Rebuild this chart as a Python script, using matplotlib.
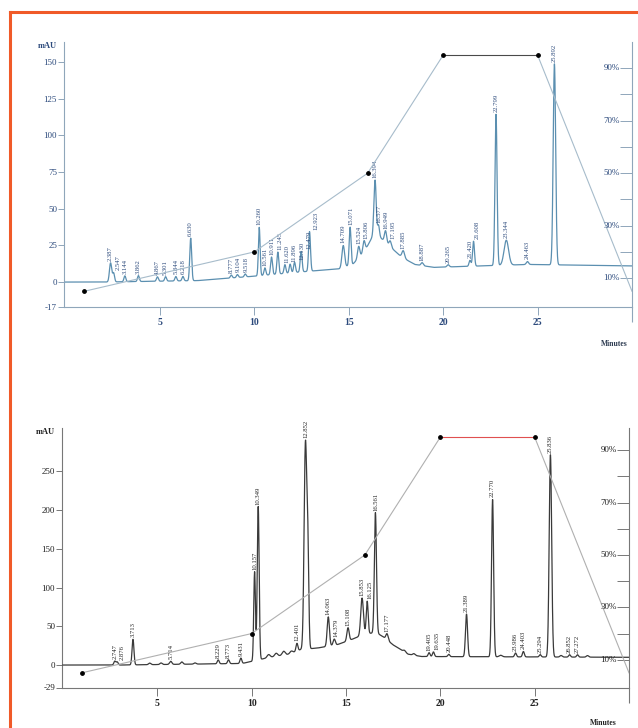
import numpy as np
import matplotlib.pyplot as plt
from matplotlib.lines import Line2D

# gradient programme (% solvent B) - same for both runs
grad_t = [1, 10, 16, 20, 25, 30]
grad_pct = [5, 20, 50, 95, 95, 5]

# top run: baseline drift knots (min, mAU)
top_base_t = [0, 2, 7, 9, 10, 13, 14.5, 15.2, 15.8, 16.3, 16.7, 17.2, 17.8, 18.5, 19.5, 24.5, 30]
top_base_y = [0, 0, 1, 3, 4, 7.5, 9, 12, 20, 32, 30, 24, 17, 12, 10, 12, 11]

# top run: labelled peaks (retention time, height above baseline, sigma)
top_rt = [2.387, 2.547, 3.144, 3.862, 4.867, 5.301, 5.844, 6.218, 6.630, 8.777, 9.104, 9.518,
          10.260, 10.561, 10.911, 11.245, 11.620, 11.896, 12.130, 12.479, 12.923,
          14.709, 15.071, 15.524, 15.806, 16.394, 16.577, 16.949, 17.195, 17.885, 18.887,
          20.265, 21.420, 21.608, 22.799, 23.344, 24.463, 25.892]
top_amp = [13, 6, 4, 4, 3, 3, 3, 3, 29, 2, 2, 2,
           33, 5, 12, 15, 6, 6, 7, 14, 27,
           15, 26, 8, 8, 38, 8, 8, 4, 5, 2,
           1.5, 4, 17, 103, 17, 2, 137]
top_sig = [0.06, 0.05, 0.05, 0.05, 0.05, 0.05, 0.05, 0.05, 0.05, 0.05, 0.05, 0.05,
           0.045, 0.05, 0.05, 0.05, 0.05, 0.05, 0.05, 0.05, 0.05,
           0.07, 0.05, 0.06, 0.06, 0.06, 0.05, 0.06, 0.06, 0.07, 0.06,
           0.06, 0.05, 0.05, 0.055, 0.12, 0.06, 0.065]

# bottom run: baseline drift knots
bot_base_t = [0, 3, 9.5, 10.6, 11, 12, 12.6, 13.5, 14.5, 15.2, 16.0, 16.6, 17.0, 17.5, 18.3, 19, 30]
bot_base_y = [0, 0, 2, 8, 10, 14, 20, 22, 26, 32, 40, 42, 36, 26, 14, 11, 10]

# bottom run: labelled peaks
bot_rt = [2.747, 2.876, 3.713, 5.714, 8.229, 8.773, 9.431, 10.157, 10.349, 12.401, 12.852,
          14.063, 14.379, 15.108, 15.853, 16.125, 16.561, 17.177, 19.405, 19.635, 20.448,
          21.389, 22.770, 23.986, 24.403, 25.294, 25.836, 26.852, 27.272]
bot_amp = [5, 4, 33, 4, 5, 5, 7, 115, 198, 10, 265,
           38, 8, 17, 48, 42, 155, 8, 5, 6, 3,
           55, 203, 5, 7, 3, 261, 3, 3]
bot_sig = [0.05, 0.05, 0.05, 0.06, 0.05, 0.05, 0.05, 0.045, 0.05, 0.05, 0.07,
           0.06, 0.06, 0.06, 0.07, 0.05, 0.055, 0.06, 0.05, 0.05, 0.05,
           0.055, 0.055, 0.05, 0.05, 0.05, 0.065, 0.05, 0.05]

# bottom run: unlabelled small bumps / shoulder
bot_minor_rt = [4.6, 5.2, 6.3, 7.0, 10.9, 11.3, 11.7, 12.1, 12.98, 18.1, 18.6, 23.2, 26.4, 27.8]
bot_minor_amp = [2, 2, 3, 1.5, 4, 4, 5, 3, 115, 2, 2, 2, 2, 2]
bot_minor_sig = [0.06, 0.06, 0.06, 0.06, 0.08, 0.08, 0.08, 0.08, 0.05, 0.06, 0.06, 0.08, 0.06, 0.06]

t = np.linspace(0, 30, 6001)


def trace(base_t, base_y, rts, amps, sigs):
    y = np.interp(t, base_t, base_y)
    for r, a, s in zip(rts, amps, sigs):
        y = y + a * np.exp(-0.5 * ((t - r) / s) ** 2)
    return y


top_y = trace(top_base_t, top_base_y, top_rt, top_amp, top_sig)
bot_y = trace(bot_base_t, bot_base_y, bot_rt + bot_minor_rt,
              bot_amp + bot_minor_amp, bot_sig + bot_minor_sig)

plt.rcParams['font.family'] = ['Liberation Serif', 'DejaVu Serif']
fig = plt.figure(figsize=(6.38, 7.28), dpi=100)

# orange frame (top + left edge)
orange = '#f05a28'
fig.add_artist(Line2D([10 / 638, 10 / 638], [0, 1 - 12 / 728], color=orange, lw=2.2,
                      transform=fig.transFigure))
fig.add_artist(Line2D([10 / 638, 1], [1 - 12 / 728, 1 - 12 / 728], color=orange, lw=2.2,
                      transform=fig.transFigure))

LAB_FS = 4.8


def peak_labels(ax, y, rts, color):
    # place retention-time labels above apex, nudging sideways where they would collide
    pts_per_px = 72 / fig.dpi
    placed = []  # (x_px, y0_px, y1_px)
    lab_len = LAB_FS * 0.5 * 6 / pts_per_px + 3
    min_gap = LAB_FS * 1.1 / pts_per_px
    for r in rts:
        ya = np.interp(r, t, y)
        xp, yp = ax.transData.transform((r, ya))
        y0, y1 = yp + 1.5, yp + 1.5 + lab_len
        xl = xp
        for _ in range(50):
            hit = [px for (px, p0, p1) in placed
                   if p0 < y1 and y0 < p1 and abs(xl - px) < min_gap - 0.01]
            if not hit:
                break
            xl = max(hit) + min_gap
        placed.append((xl, y0, y1))
        dx = (xl - xp) * pts_per_px
        ax.annotate(f'{r:.3f}', (r, ya), xytext=(dx, 1.5), textcoords='offset points',
                    rotation=90, ha='center', va='bottom', fontsize=LAB_FS, color=color,
                    zorder=4)


def panel(rect, y, rts, ylim, yticks, pct_lim, xlim, line_c, lab_c, axis_c, grad_c, flat_c):
    ax = fig.add_axes(rect)
    ax.plot(t, y, color=line_c, lw=0.9, zorder=3)
    ax.set_xlim(*xlim)
    ax.set_ylim(*ylim)
    ax.set_yticks(yticks)
    ax.set_yticklabels([str(v) for v in yticks])
    ax.set_xticks([5, 10, 15, 20, 25])
    ax.set_xticks([30], minor=True)
    for s in ['top', 'right']:
        ax.spines[s].set_visible(False)
    for s in ['left', 'bottom']:
        ax.spines[s].set_color(axis_c)
        ax.spines[s].set_linewidth(0.8)
    ax.tick_params(axis='y', direction='out', length=4, width=0.7, pad=1,
                   labelsize=6.5, colors=axis_c, labelcolor=lab_c)
    ax.tick_params(axis='x', which='major', direction='out', length=6, width=0.7, pad=2,
                   labelsize=7, colors=axis_c, labelcolor=lab_c)
    ax.tick_params(axis='x', which='minor', direction='out', length=11, width=0.8, colors=axis_c)
    for lbl in ax.get_xticklabels():
        lbl.set_fontweight('bold')
    ax.text(-0.012, 0.985, 'mAU', transform=ax.transAxes, ha='right', va='center',
            fontsize=6, fontweight='bold', color=lab_c)

    peak_labels(ax, y, rts, lab_c)

    # gradient axis
    ax2 = ax.twinx()
    ax2.set_ylim(*pct_lim)
    ax2.plot(grad_t[:4], grad_pct[:4], color=grad_c, lw=0.8)
    ax2.plot(grad_t[3:5], grad_pct[3:5], color=flat_c, lw=0.8)
    ax2.plot(grad_t[4:], grad_pct[4:], color=grad_c, lw=0.8)
    ax2.scatter(grad_t[:5], grad_pct[:5], s=6, color='black', zorder=5)
    for s in ['top', 'left', 'bottom']:
        ax2.spines[s].set_visible(False)
    ax2.spines['right'].set_color(axis_c)
    ax2.spines['right'].set_linewidth(0.8)
    ax2.set_yticks(range(10, 100, 10))
    ax2.set_yticklabels([])
    ax2.tick_params(axis='y', direction='in', length=9, width=0.7, colors=axis_c)
    for p in [10, 30, 50, 70, 90]:
        ax2.text(0.978, p, f'{p}%', transform=ax2.get_yaxis_transform(), ha='right',
                 va='center', fontsize=6.5, color=lab_c)
    return ax


# top panel
panel([64 / 638, 1 - 307 / 728, 568 / 638, 265 / 728], top_y, top_rt,
      (-17, 163.6), [-17, 0, 25, 50, 75, 100, 125, 150], (-1, 100), (-0.08, 30),
      '#5b8fb0', '#2c4a7c', '#8fa6ba', '#a7bccb', '#4a4a4a')
fig.text(614 / 638, 1 - 344 / 728, 'Minutes', ha='center', va='center', fontsize=5.5,
         fontweight='bold', color='#2c3a50')

# bottom panel
panel([62 / 638, 1 - 687.5 / 728, 567 / 638, 259.5 / 728], bot_y, bot_rt,
      (-29, 306), [-29, 0, 50, 100, 150, 200, 250], (-0.6, 98.5), (-0.05, 30),
      '#3a3a3a', '#222222', '#777777', '#b0b0b0', '#e05050')
fig.text(603 / 638, 1 - 723 / 728, 'Minutes', ha='center', va='center', fontsize=5.5,
         fontweight='bold', color='#222222')

fig.savefig('out.png', dpi=100)
